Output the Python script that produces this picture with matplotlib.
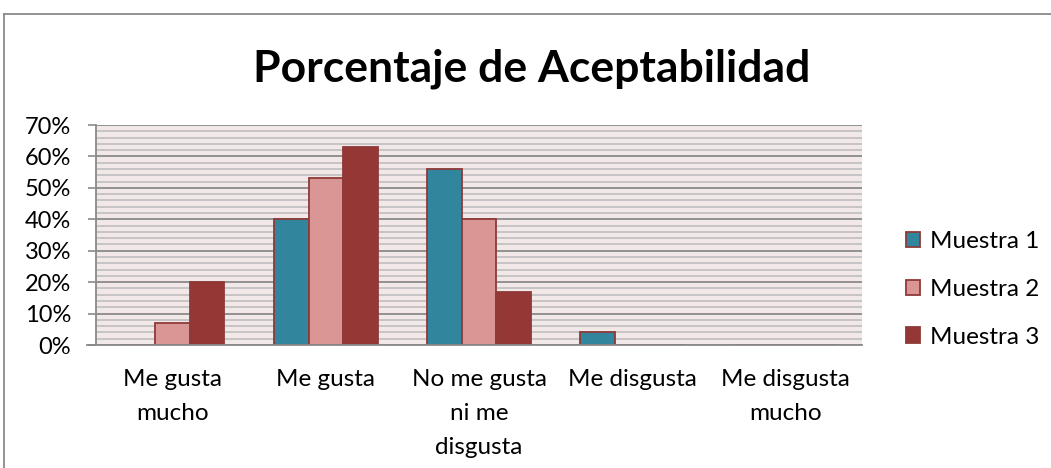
import matplotlib
matplotlib.use("Agg")
import matplotlib.pyplot as plt
import numpy as np
from matplotlib.lines import Line2D
from matplotlib.ticker import MultipleLocator, PercentFormatter

categories = ["Me gusta\nmucho", "Me gusta", "No me gusta\nni me\ndisgusta", "Me disgusta", "Me disgusta\nmucho"]
series_names = ["Muestra 1", "Muestra 2", "Muestra 3"]
muestra1 = [0, 40, 56, 4, 0]
muestra2 = [7, 53, 40, 0, 0]
muestra3 = [20, 63, 17, 0, 0]
series_values = [muestra1, muestra2, muestra3]
yticks = [0, 10, 20, 30, 40, 50, 60, 70]

colors = ["#31859C", "#D99694", "#953735"]
edge = "#8E3A38"
FONT = ["Lato", "DejaVu Sans"]
plt.rcParams["font.family"] = FONT

W, H = 1051, 468
fig = plt.figure(figsize=(W / 100, H / 100), dpi=100)
ax = fig.add_axes([96 / W, 1 - 345 / H, (862 - 96) / W, (345 - 125) / H])
ax.set_facecolor("#F3E8E8")

x = np.arange(len(categories))
w = 0.225
for i, (name, vals) in enumerate(zip(series_names, series_values)):
    ax.bar(x + (i - 1) * w, vals, width=w, color=colors[i], edgecolor=edge,
           linewidth=1.3, label=name, zorder=3)

ax.set_xlim(-0.5, len(categories) - 0.5)
ax.set_ylim(0, 70)
ax.set_yticks(yticks)
ax.yaxis.set_major_formatter(PercentFormatter(decimals=0))
ax.yaxis.set_minor_locator(MultipleLocator(2))
ax.grid(axis="y", which="major", color="#8A8A8A", linewidth=1.3, zorder=1)
ax.grid(axis="y", which="minor", color="#BDBDBD", linewidth=1.2, zorder=1)
ax.set_axisbelow(True)

ax.set_xticks(x)
ax.set_xticklabels(categories, fontsize=17.5, linespacing=1.75)
ax.tick_params(axis="x", length=0, pad=17.5)
ax.tick_params(axis="y", which="major", length=6, width=1.2, color="#8A8A8A",
               labelsize=17, pad=12)
ax.tick_params(axis="y", which="minor", length=0)

for s in ["top", "right"]:
    ax.spines[s].set_visible(False)
for s in ["left", "bottom"]:
    ax.spines[s].set_color("#8A8A8A")
    ax.spines[s].set_linewidth(1.3)
ax.spines["bottom"].set_bounds(-0.56, len(categories) - 0.5)
ax.spines["bottom"].set_zorder(4)

fig.text(532 / W, 1 - 69 / H, "Porcentaje de Aceptabilidad", fontsize=32,
         fontweight="bold", ha="center", va="center")

leg = fig.legend(loc="upper left", bbox_to_anchor=(894 / W, 1 - 219 / H),
                 frameon=False, fontsize=17.5, handlelength=0.58, handleheight=0.58,
                 handletextpad=0.4, labelspacing=1.1, borderpad=0)

# outer chart frame
fig.add_artist(Line2D([3.5 / W, 3.5 / W], [0, 1 - 13.5 / H], transform=fig.transFigure,
                      color="#8A8A8A", linewidth=1.3))
fig.add_artist(Line2D([3.5 / W, 1], [1 - 13.5 / H, 1 - 13.5 / H], transform=fig.transFigure,
                      color="#8A8A8A", linewidth=1.3))

fig.savefig("out.png", dpi=100, facecolor="white")
